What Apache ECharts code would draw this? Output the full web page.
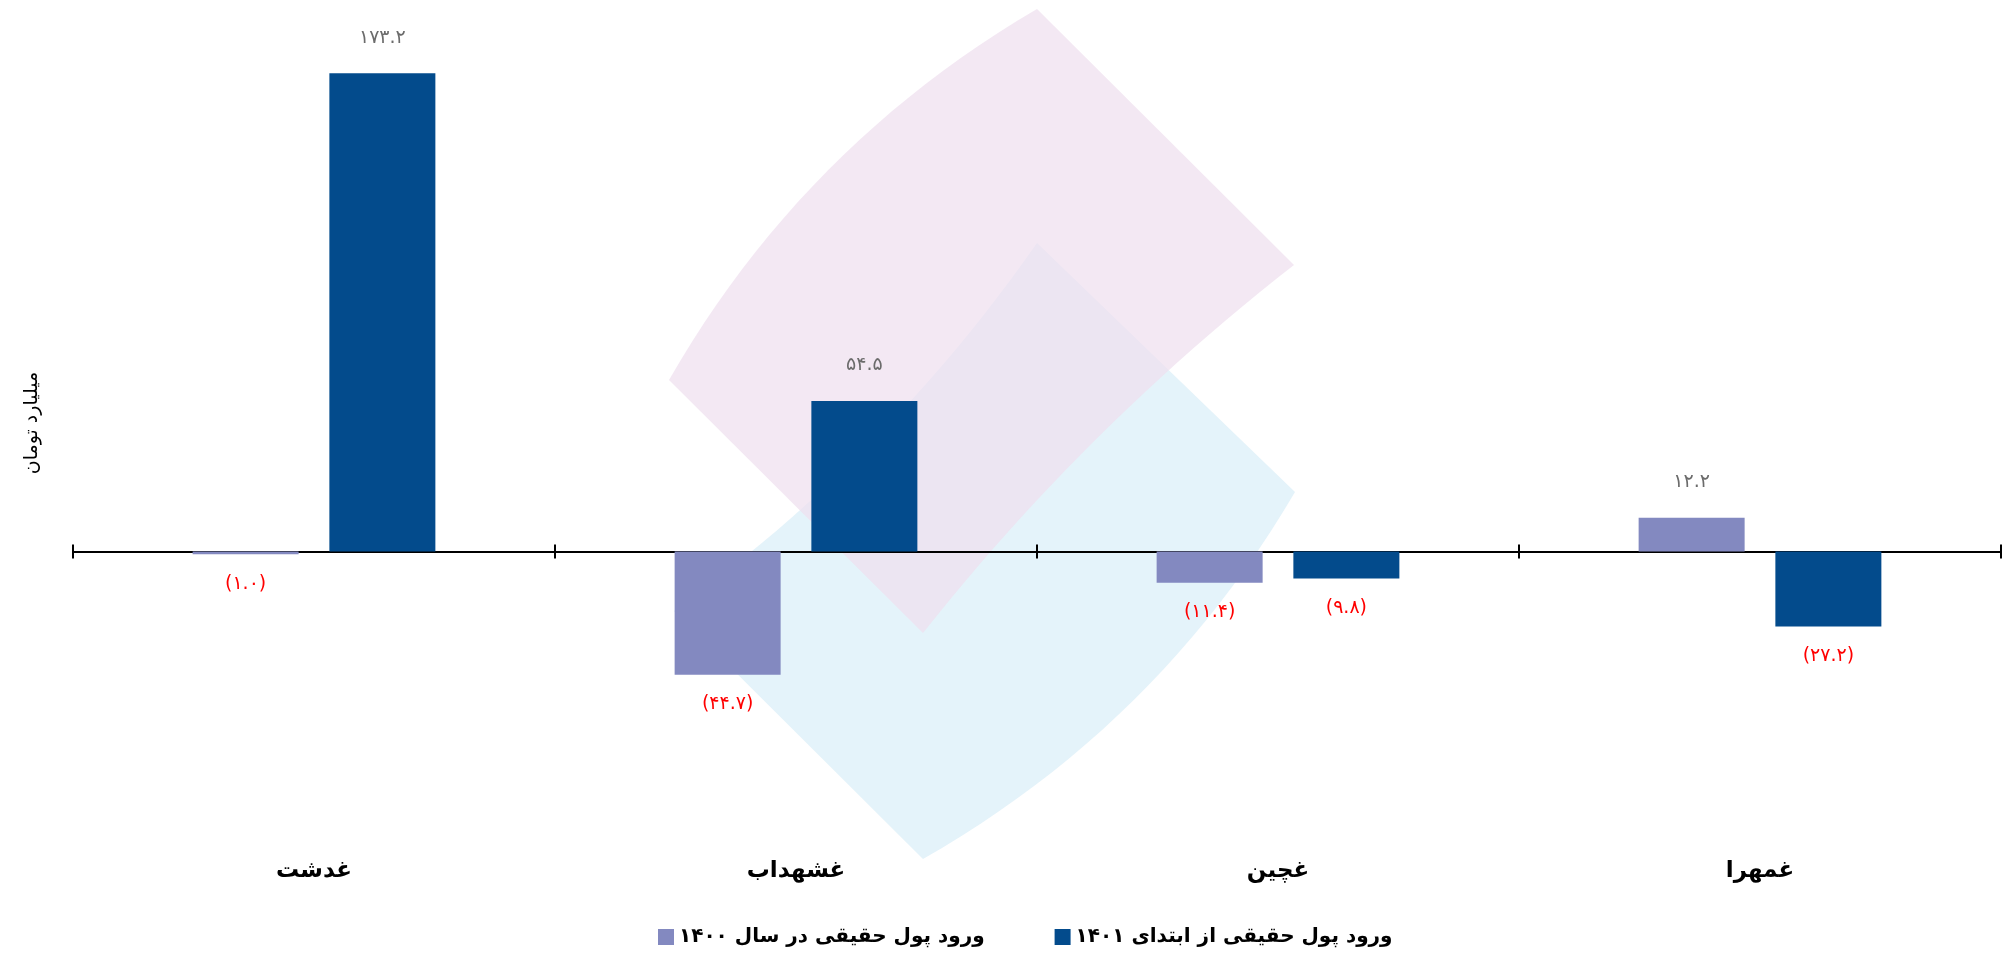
<!DOCTYPE html>
<html dir="rtl">
<head>
<meta charset="utf-8">
<script src="https://cdn.jsdelivr.net/npm/echarts@6/dist/echarts.min.js"></script>
<style>
    html, body { margin: 0; padding: 0; background: #fff; }
    #chart { width: 2005px; height: 958px; }
</style>
</head>
<body>
<div id="chart"></div>
<script>
// chart data
var categories = ['غدشت', 'غشهداب', 'غچین', 'غمهرا'];
var seriesNames = ['ورود پول حقیقی در سال ۱۴۰۰', 'ورود پول حقیقی از ابتدای ۱۴۰۱'];
var inflow1400 = [-1.0, -44.7, -11.4, 12.2];
var inflow1401 = [173.2, 54.5, -9.8, -27.2];
var unitName = 'میلیارد تومان';

var colors = ['#8389c0', '#034b8c'];
var fontFamily = 'DejaVu Sans';

var toPersian = function(v) {
    var digits = '۰۱۲۳۴۵۶۷۸۹';
    var s = Math.abs(v).toFixed(1).replace(/[0-9]/g, function(d) {
        return digits[+d];
    });
    return v < 0 ? '(' + s + ')' : s;
};

var buildData = function(values) {
    return values.map(function(v) {
        return {
            value: v,
            label: {
                position: v < 0 ? 'bottom' : 'top',
                distance: v < 0 ? 20 : 26,
                color: v < 0 ? '#ff0000' : '#6b6b6b'
            }
        };
    });
};

// quadratic curve points for the background logo
var quad = function(p0, c, p2) {
    var pts = [];
    for (var i = 0; i <= 24; i++) {
        var t = i / 24, u = 1 - t;
        pts.push([u * u * p0[0] + 2 * u * t * c[0] + t * t * p2[0],
                  u * u * p0[1] + 2 * u * t * c[1] + t * t * p2[1]]);
    }
    return pts;
};

var blueShape = [[1037, 243], [1295, 492]]
    .concat(quad([1295, 492], [1158, 725], [923, 859]).slice(1))
    .concat([[674, 611]])
    .concat(quad([674, 611], [887, 458], [1037, 243]).slice(1, -1));

var pinkShape = [[1037, 9], [1294, 265]]
    .concat(quad([1294, 265], [1086, 427], [923, 633]).slice(1))
    .concat([[669, 380]])
    .concat(quad([669, 380], [803, 146], [1037, 9]).slice(1, -1));

var myChart = echarts.init(document.getElementById('chart'));

var tickStyle = { color: '#000', width: 2 };
var gridBox = { left: 73, right: 4, top: 27, bottom: 103 };
var hiddenY = {
    type: 'value', min: -110, max: 190,
    axisLine: { show: false }, axisTick: { show: false },
    axisLabel: { show: false }, splitLine: { show: false }
};

var option = {
    backgroundColor: '#ffffff',
    animation: false,
    color: colors,
    textStyle: { fontFamily: fontFamily },
    graphic: [
        { type: 'polygon', z: -1, shape: { points: blueShape }, style: { fill: '#e4f3fa' } },
        { type: 'polygon', z: -1, shape: { points: pinkShape }, style: { fill: 'rgba(239,224,239,0.73)' } },
        {
            type: 'text', x: 32, y: 423, rotation: Math.PI / 2,
            style: {
                text: unitName, fontSize: 19, fontFamily: fontFamily, fill: '#000',
                align: 'center', verticalAlign: 'middle'
            }
        }
    ],
    legend: {
        top: 922,
        left: 653,
        icon: 'rect',
        itemWidth: 16,
        itemHeight: 16,
        itemGap: 70,
        textStyle: { fontSize: 20, fontWeight: 'bold', color: '#000', fontFamily: fontFamily },
        data: seriesNames
    },
    grid: [
        Object.assign({}, gridBox),
        Object.assign({}, gridBox)
    ],
    xAxis: [
        {
            type: 'category', data: categories, gridIndex: 0, position: 'bottom',
            axisLine: { onZero: true, lineStyle: { color: '#000', width: 2 } },
            axisTick: { show: true, length: 7, lineStyle: tickStyle },
            axisLabel: { show: false }
        },
        {
            type: 'category', data: categories, gridIndex: 0, position: 'bottom',
            axisLine: { show: false, onZero: false },
            axisTick: { show: false },
            axisLabel: { fontSize: 23, fontWeight: 'bold', color: '#000', margin: 5, fontFamily: fontFamily }
        },
        {
            type: 'category', data: categories, gridIndex: 1, position: 'bottom',
            axisLine: { onZero: true, lineStyle: { color: '#000', width: 2 } },
            axisTick: { show: true, inside: true, length: 7, lineStyle: tickStyle },
            axisLabel: { show: false }
        }
    ],
    yAxis: [
        Object.assign({ gridIndex: 0 }, hiddenY),
        Object.assign({ gridIndex: 1 }, hiddenY)
    ],
    series: [
        {
            name: seriesNames[0], type: 'bar', xAxisIndex: 0, yAxisIndex: 0,
            barWidth: 106, barGap: '29%',
            data: buildData(inflow1400),
            label: {
                show: true, fontSize: 19, fontFamily: fontFamily,
                formatter: function(p) { return toPersian(p.value); }
            }
        },
        {
            name: seriesNames[1], type: 'bar', xAxisIndex: 0, yAxisIndex: 0,
            barWidth: 106, barGap: '29%',
            data: buildData(inflow1401),
            label: {
                show: true, fontSize: 19, fontFamily: fontFamily,
                formatter: function(p) { return toPersian(p.value); }
            }
        }
    ]
};

myChart.setOption(option);
</script>
</body>
</html>
